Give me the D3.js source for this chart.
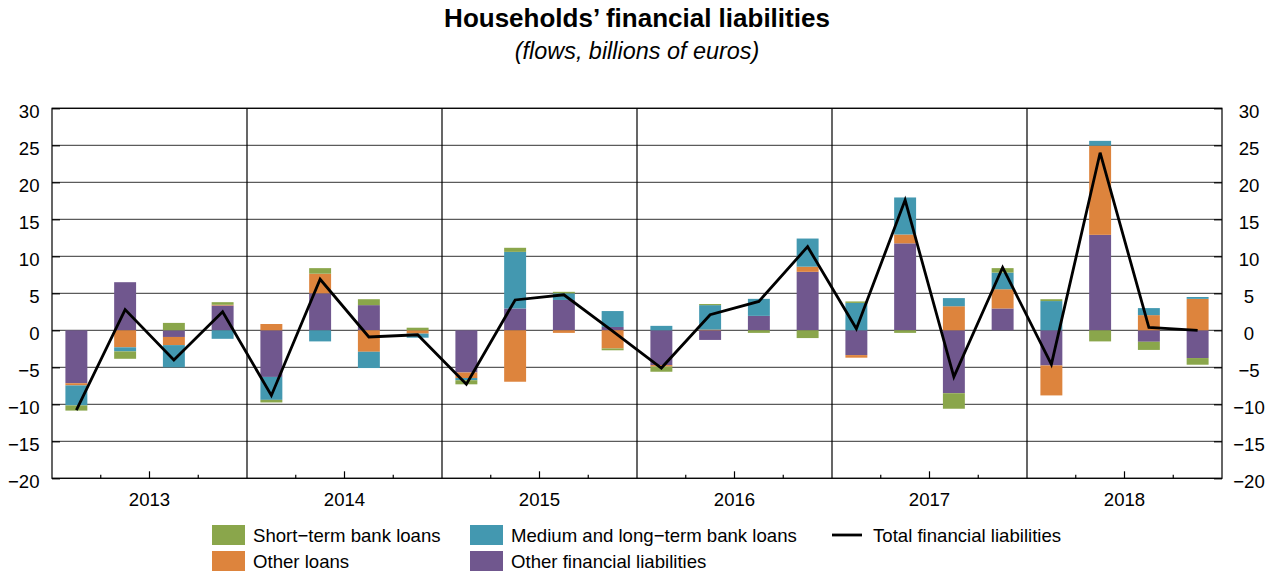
<!DOCTYPE html>
<html>
<head>
<meta charset="utf-8">
<script src="https://cdn.jsdelivr.net/npm/d3@7"></script>
<style>
  html, body { margin: 0; padding: 0; background: #fff; overflow: hidden; }
  svg { display: block; }
</style>
</head>
<body>
<div id="chart"></div>
<script>
// data (billions of euros, quarterly flows)
const years = ["2013", "2014", "2015", "2016", "2017", "2018"];
const quarters = years.flatMap(y => ["Q1", "Q2", "Q3", "Q4"].map(q => y + q));

const shortTerm = [
  -0.7, -1.0, 1.0, 0.35,
  -0.35, 0.75, 0.8, 0.35,
  -0.55, 0.55, 0.2, -0.25,
  -0.7, 0.15, -0.35, -1.05,
  0.2, -0.35, -2.1, 0.6,
  0.25, -1.5, -1.1, -0.9
];
const otherLoans = [
  -0.3, -2.3, -1.1, 0.1,
  0.85, 2.65, -2.9, -0.45,
  -0.75, -6.95, -0.35, -2.45,
  -0.2, 0.1, 0.0, 0.7,
  -0.35, 1.2, 3.25, 2.6,
  -4.05, 12.05, 2.05, 4.25
];
const mediumLong = [
  -2.7, -0.55, -3.0, -1.15,
  -3.1, -1.5, -2.2, -0.55,
  -0.3, 7.65, 0.9, 2.15,
  0.6, 3.3, 2.3, 3.8,
  3.7, 5.0, 1.1, 2.25,
  3.95, 0.65, 0.95, 0.25
];
const otherFin = [
  -7.15, 6.5, -0.9, 3.35,
  -6.3, 5.0, 3.4, 0.0,
  -5.7, 2.95, 4.1, 0.45,
  -4.7, -1.3, 1.95, 7.9,
  -3.35, 11.75, -8.5, 2.95,
  -4.75, 12.9, -1.55, -3.75
];
const total = [
  -10.8, 2.8, -4.0, 2.5,
  -8.8, 6.9, -0.9, -0.6,
  -7.3, 4.1, 4.8, -0.1,
  -5.1, 2.1, 3.9, 11.3,
  0.2, 17.6, -6.3, 8.5,
  -4.6, 24.0, 0.4, 0.0
];
const yTicks = [30, 25, 20, 15, 10, 5, 0, -5, -10, -15, -20];

const series = [
  { key: "otherFin", label: "Other financial liabilities", color: "#70578e", values: otherFin },
  { key: "otherLoans", label: "Other loans", color: "#dd843d", values: otherLoans },
  { key: "mediumLong", label: "Medium and long\u2212term bank loans", color: "#4398b0", values: mediumLong },
  { key: "shortTerm", label: "Short\u2212term bank loans", color: "#8aa64b", values: shortTerm }
];

const width = 1279;
const height = 575;
const margin = { top: 108.3, right: 57, bottom: 96.7, left: 52 };
const innerWidth = width - margin.left - margin.right;
const innerHeight = height - margin.top - margin.bottom;
const fontSize = 18.6;
const fontFamily = "'Liberation Sans', Arial, sans-serif";

const svg = d3.select("#chart").append("svg")
  .attr("width", width)
  .attr("height", height)
  .attr("font-family", fontFamily);

// title
svg.append("text")
  .attr("x", 637).attr("y", 27)
  .attr("text-anchor", "middle")
  .attr("font-weight", "bold")
  .attr("font-size", 26)
  .text("Households\u2019 financial liabilities");

svg.append("text")
  .attr("x", 637).attr("y", 59)
  .attr("text-anchor", "middle")
  .attr("font-style", "italic")
  .attr("font-size", 23.4)
  .text("(flows, billions of euros)");

const g = svg.append("g")
  .attr("transform", `translate(${margin.left}, ${margin.top})`);

const x = d3.scaleBand()
  .domain(quarters)
  .range([0, innerWidth])
  .paddingInner(0.55)
  .paddingOuter(0.275);

const y = d3.scaleLinear()
  .domain([-20, 30])
  .range([innerHeight, 0]);

// gridlines
g.append("g")
  .selectAll("line")
  .data(yTicks)
  .join("line")
  .attr("x1", 0).attr("x2", innerWidth)
  .attr("y1", d => y(d)).attr("y2", d => y(d))
  .attr("stroke", "#333")
  .attr("stroke-width", 1);

// stacked bars
const table = quarters.map((q, i) => {
  const row = { q: q };
  series.forEach(s => { row[s.key] = s.values[i]; });
  return row;
});

const stack = d3.stack()
  .keys(series.map(s => s.key))
  .order(d3.stackOrderNone)
  .offset(d3.stackOffsetDiverging);

const stacked = stack(table);

g.append("g")
  .selectAll("g")
  .data(stacked)
  .join("g")
  .attr("fill", d => series.find(s => s.key === d.key).color)
  .selectAll("rect")
  .data(d => d)
  .join("rect")
  .attr("x", d => x(d.data.q))
  .attr("width", x.bandwidth())
  .attr("y", d => y(Math.max(d[0], d[1])))
  .attr("height", d => Math.abs(y(d[0]) - y(d[1])));

// year separators
const step = x.step();
g.append("g")
  .selectAll("line")
  .data(d3.range(1, years.length))
  .join("line")
  .attr("x1", d => d * 4 * step).attr("x2", d => d * 4 * step)
  .attr("y1", 0).attr("y2", innerHeight)
  .attr("stroke", "#000")
  .attr("stroke-width", 1.2);

// quarter ticks on bottom axis
g.append("g")
  .selectAll("line")
  .data(d3.range(0, quarters.length).filter(i => i % 4 !== 0))
  .join("line")
  .attr("x1", i => i * step).attr("x2", i => i * step)
  .attr("y1", innerHeight)
  .attr("y2", i => innerHeight - (i % 4 === 2 ? 7 : 3.5))
  .attr("stroke", "#000")
  .attr("stroke-width", 1.2);

// frame
g.append("rect")
  .attr("width", innerWidth)
  .attr("height", innerHeight)
  .attr("fill", "none")
  .attr("stroke", "#000")
  .attr("stroke-width", 1.2);

// y ticks left and right (inward), labels drawn separately
const yAxisL = g.append("g")
  .call(d3.axisLeft(y).tickValues(yTicks).tickSize(-8).tickFormat(""));
const yAxisR = g.append("g")
  .attr("transform", `translate(${innerWidth}, 0)`)
  .call(d3.axisRight(y).tickValues(yTicks).tickSize(-8).tickFormat(""));

[yAxisL, yAxisR].forEach(a => {
  a.select(".domain").remove();
  a.selectAll(".tick line").attr("stroke", "#000").attr("stroke-width", 1.2);
  a.selectAll(".tick text").remove();
});

const fmt = d => (d < 0 ? "\u2212" + Math.abs(d) : String(d));

// tick labels
svg.append("g")
  .selectAll("text")
  .data(yTicks)
  .join("text")
  .attr("x", margin.left - 12.5)
  .attr("y", d => margin.top + y(d) + 9.5)
  .attr("text-anchor", "end")
  .attr("font-size", fontSize)
  .text(fmt);

svg.append("g")
  .selectAll("text")
  .data(yTicks)
  .join("text")
  .attr("x", margin.left + innerWidth + 27)
  .attr("y", d => margin.top + y(d) + 9.5)
  .attr("text-anchor", "middle")
  .attr("font-size", fontSize)
  .text(fmt);

// year labels
svg.append("g")
  .selectAll("text")
  .data(years)
  .join("text")
  .attr("x", (d, i) => margin.left + (i * 4 + 2) * step)
  .attr("y", margin.top + innerHeight + 28)
  .attr("text-anchor", "middle")
  .attr("font-size", fontSize)
  .text(d => d);

// total line
const line = d3.line()
  .x((d, i) => x(quarters[i]) + x.bandwidth() / 2)
  .y(d => y(d));

g.append("path")
  .datum(total)
  .attr("fill", "none")
  .attr("stroke", "#000")
  .attr("stroke-width", 2.8)
  .attr("stroke-linejoin", "miter")
  .attr("d", line);

// legend
const legendItems = [
  { label: "Short\u2212term bank loans", color: "#8aa64b", x: 212, y: 535, type: "rect" },
  { label: "Medium and long\u2212term bank loans", color: "#4398b0", x: 470, y: 535, type: "rect" },
  { label: "Total financial liabilities", color: "#000", x: 832, y: 535, type: "line" },
  { label: "Other loans", color: "#dd843d", x: 212, y: 561, type: "rect" },
  { label: "Other financial liabilities", color: "#70578e", x: 470, y: 561, type: "rect" }
];

const legend = svg.append("g");
legendItems.forEach(it => {
  const item = legend.append("g").attr("transform", `translate(${it.x}, ${it.y})`);
  if (it.type === "rect") {
    item.append("rect")
      .attr("x", 0).attr("y", -10)
      .attr("width", 33).attr("height", 20)
      .attr("fill", it.color);
  } else {
    item.append("line")
      .attr("x1", 0).attr("x2", 30)
      .attr("y1", 0).attr("y2", 0)
      .attr("stroke", it.color)
      .attr("stroke-width", 2.8);
  }
  item.append("text")
    .attr("x", 41).attr("y", 6.5)
    .attr("font-size", fontSize)
    .text(it.label);
});
</script>
</body>
</html>
